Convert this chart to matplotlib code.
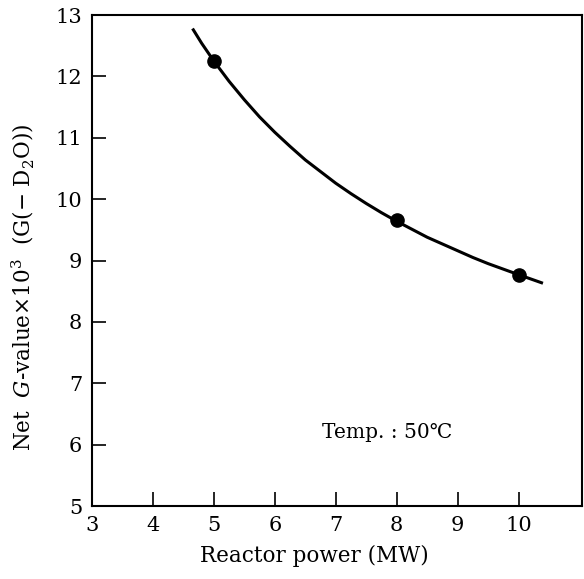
import matplotlib.pyplot as plt

plt.rcParams['font.family'] = ['DejaVu Serif', 'DejaVu Sans']
plt.rcParams['mathtext.fontset'] = 'dejavuserif'

# Measured points
power = [5, 8, 10]
g_value = [12.25, 9.66, 8.77]

# Fitted curve
curve_x = [4.65, 4.8, 5.0, 5.25, 5.5, 5.75, 6.0, 6.25, 6.5, 6.75, 7.0, 7.25, 7.5,
           7.75, 8.0, 8.25, 8.5, 8.75, 9.0, 9.25, 9.5, 9.75, 10.0, 10.2, 10.4]
curve_y = [12.78, 12.54, 12.25, 11.92, 11.62, 11.34, 11.09, 10.86, 10.64, 10.45,
           10.26, 10.09, 9.93, 9.78, 9.64, 9.51, 9.38, 9.27, 9.16, 9.05, 8.95,
           8.86, 8.77, 8.70, 8.63]

fig = plt.figure(figsize=(5.84, 5.79), dpi=100)
ax = fig.add_axes([0.1575, 0.126, 0.839, 0.848])

ax.plot(curve_x, curve_y, color='black', lw=2.2, solid_capstyle='butt')
ax.plot(power, g_value, 'o', color='black', markersize=9.5)

ax.set_xlim(3, 11.04)
ax.set_ylim(5, 13)
ax.set_xticks(range(3, 11))
ax.set_yticks(range(5, 14))
ax.tick_params(direction='in', length=10, width=1.2, labelsize=15, pad=7)
for s in ax.spines.values():
    s.set_linewidth(1.5)

ax.text(6.77, 6.2, 'Temp. : 50℃', fontsize=14.5, va='center')

ax.set_xlabel('Reactor power (MW)', fontsize=15.5)
ax.xaxis.set_label_coords(0.453, -0.08)
ax.set_ylabel(r'Net  $G$-value$\times$10$^3$  (G($-$ D$_2$O))', fontsize=15.5)
ax.yaxis.set_label_coords(-0.115, 0.446)

fig.savefig('out.png', dpi=100)
